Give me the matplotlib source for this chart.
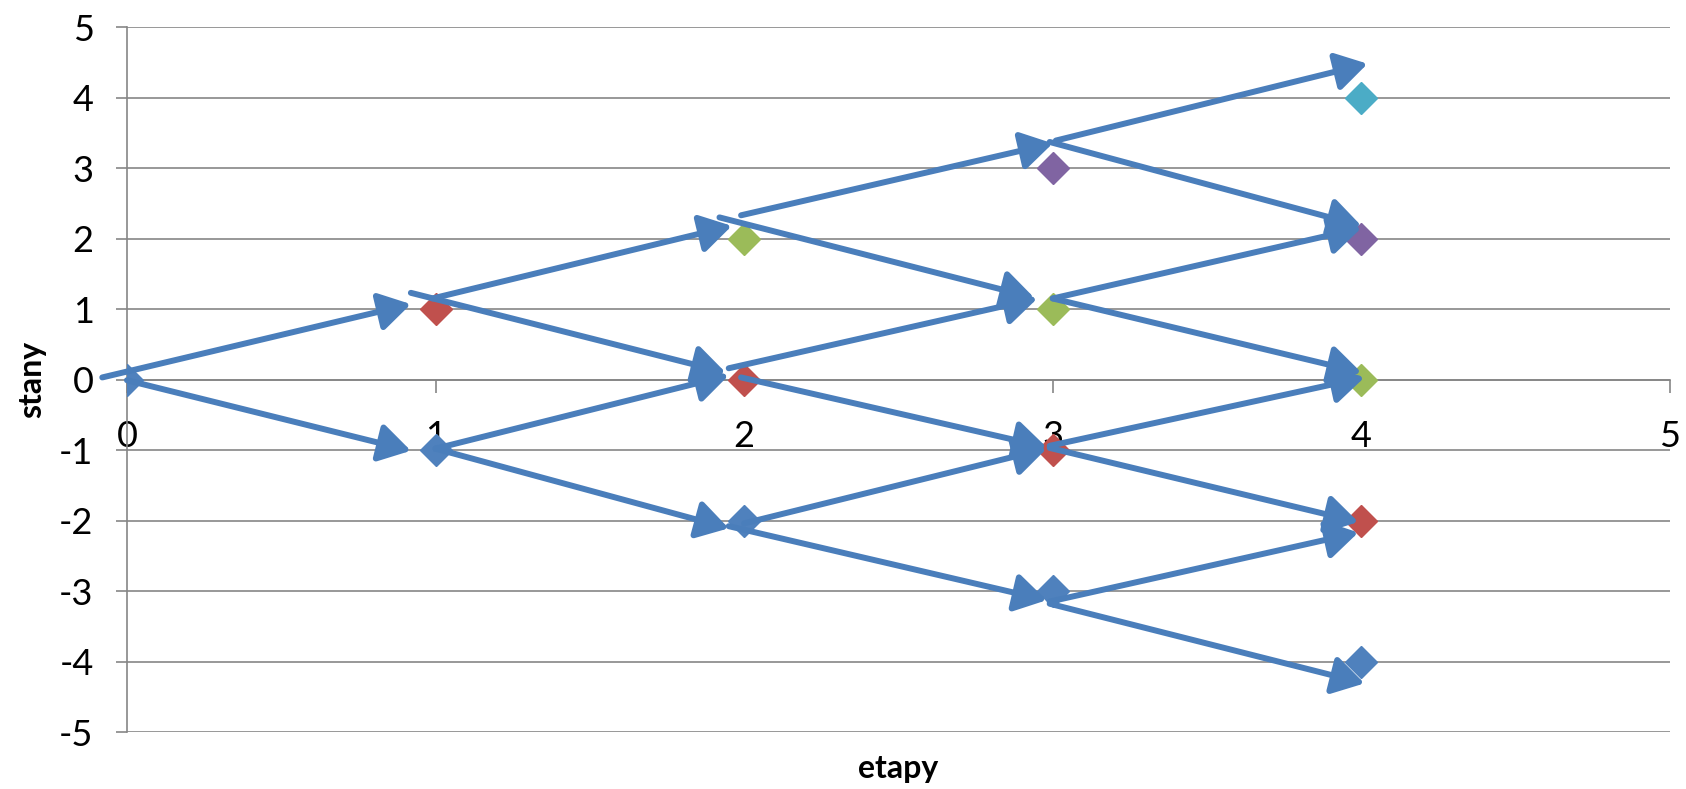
import matplotlib.pyplot as plt

# punkty (diamenty) - kolejne serie
seria_x = [[0, 1, 2, 3, 4], [1, 2, 3, 4], [2, 3, 4], [3, 4], [4]]
seria_y = [[0, -1, -2, -3, -4], [1, 0, -1, -2], [2, 1, 0], [3, 2], [4]]
kolory = ['#4F81BD', '#C0504D', '#9BBB59', '#8064A2', '#4BACC6']

# strzalki (wspolrzedne w danych)
start_x = [-0.08, 0.00, 0.99, 0.92, 1.00, 1.00, 1.99, 1.92, 1.95, 1.99,
           2.00, 1.95, 3.01, 2.99, 3.00, 3.00, 2.99, 2.99, 2.99, 2.99]
start_y = [0.03, -0.01, 1.15, 1.23, -0.98, -0.98, 2.33, 2.30, 0.16, 0.03,
           -2.04, -2.08, 3.39, 3.37, 1.15, 1.15, -0.94, -0.97, -3.15, -3.18]
end_x = [0.92, 0.92, 1.96, 1.94, 1.95, 1.95, 3.00, 2.94, 2.95, 2.98,
         2.98, 2.98, 4.02, 4.00, 4.00, 4.00, 4.01, 3.99, 3.99, 4.01]
end_y = [1.07, -1.01, 2.18, 0.10, 0.06, -2.11, 3.35, 1.16, 1.15, -0.96,
         -0.98, -3.13, 4.48, 2.18, 2.15, 0.10, 0.03, -2.02, -2.17, -4.31]

x_ticks = [0, 1, 2, 3, 4, 5]
y_ticks = [-5, -4, -3, -2, -1, 0, 1, 2, 3, 4, 5]

plt.rcParams['font.family'] = ['Lato', 'DejaVu Sans']
plt.rcParams['axes.unicode_minus'] = False

fig = plt.figure(figsize=(16.86, 7.89), dpi=100)
ax = fig.add_axes([0.0753, 0.0722, 0.9152, 0.8935])

szary = '#868686'
ax.set_xlim(0, 5)
ax.set_ylim(-5, 5)
ax.set_xticks(x_ticks)
ax.set_yticks(y_ticks)
ax.grid(axis='y', color=szary, lw=1.2)
ax.set_axisbelow(True)

for s in ['top', 'right']:
    ax.spines[s].set_visible(False)
ax.spines['bottom'].set_position(('data', 0))
ax.spines['bottom'].set_color(szary)
ax.spines['left'].set_color(szary)
ax.spines['bottom'].set_linewidth(1.2)
ax.spines['left'].set_linewidth(1.2)

ax.tick_params(axis='x', direction='out', length=9, width=1.2, color=szary,
               pad=20, labelsize=26, labelcolor='black')
ax.tick_params(axis='y', direction='out', length=8, width=1.2, color=szary,
               pad=16, labelsize=26, labelcolor='black')

for xs, ys, c in zip(seria_x, seria_y, kolory):
    ax.plot(xs, ys, ls='none', marker='D', ms=16.5, color=c, zorder=3)

for x0, y0, x1, y1 in zip(start_x, start_y, end_x, end_y):
    ax.annotate('', xy=(x1, y1), xytext=(x0, y0),
                arrowprops=dict(arrowstyle='-|>,head_length=19,head_width=11.5',
                                color='#4A7EBB', lw=4.3, shrinkA=0, shrinkB=0,
                                mutation_scale=1),
                zorder=4, annotation_clip=False)

ax.set_xlabel('etapy', fontsize=23, fontweight='bold', va='center')
ax.xaxis.set_label_coords(0.5, -0.052)
ax.set_ylabel('stany', fontsize=23, fontweight='bold', va='center')
ax.yaxis.set_label_coords(-0.0616, 0.5)

fig.savefig('out.png', dpi=100)
